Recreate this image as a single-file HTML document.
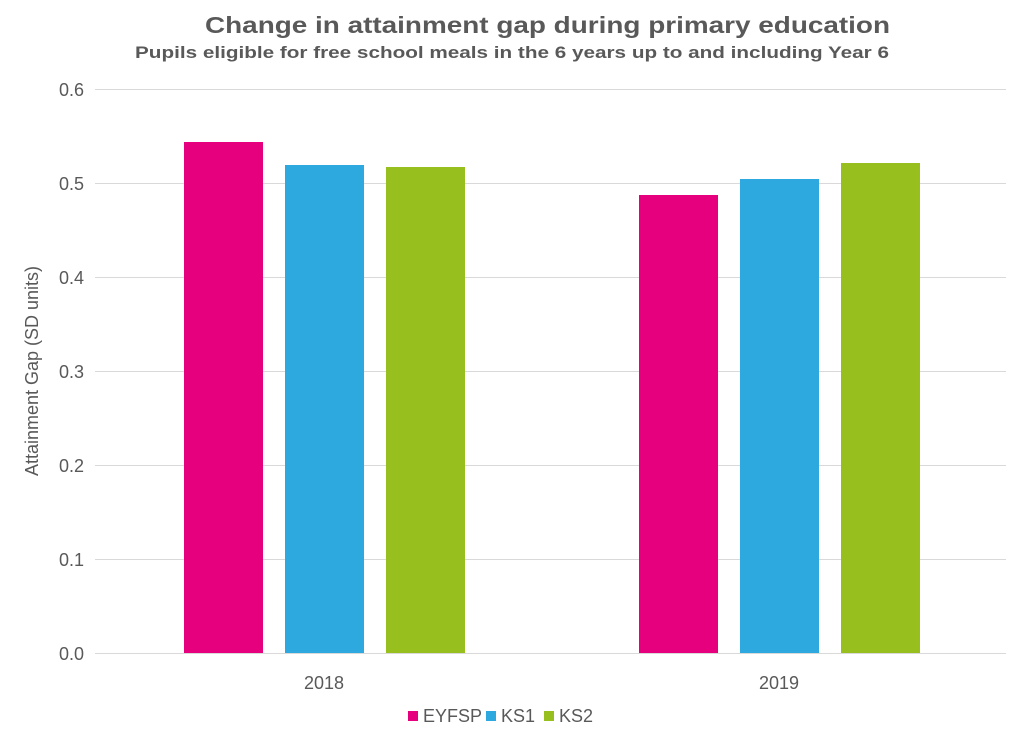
<!DOCTYPE html>
<html><head><meta charset="utf-8"><style>
body{margin:0;background:#fff;}
svg text{font-family:"Liberation Sans",sans-serif;}
</style></head><body>
<svg width="1024" height="744" xmlns="http://www.w3.org/2000/svg">
<rect width="1024" height="744" fill="#fff"/>
<text x="205" y="33" font-size="23" font-weight="bold" fill="#595959" textLength="685" lengthAdjust="spacingAndGlyphs">Change in attainment gap during primary education</text>
<text x="135" y="58" font-size="17" font-weight="bold" fill="#595959" textLength="754" lengthAdjust="spacingAndGlyphs">Pupils eligible for free school meals in the 6 years up to and including Year 6</text>
<g stroke="#d9d9d9" stroke-width="1">
<line x1="95" x2="1006" y1="89.5" y2="89.5"/>
<line x1="95" x2="1006" y1="183.5" y2="183.5"/>
<line x1="95" x2="1006" y1="277.5" y2="277.5"/>
<line x1="95" x2="1006" y1="371.5" y2="371.5"/>
<line x1="95" x2="1006" y1="465.5" y2="465.5"/>
<line x1="95" x2="1006" y1="559.5" y2="559.5"/>
<line x1="95" x2="1006" y1="653.5" y2="653.5"/>
</g>
<g font-size="18" fill="#595959" text-anchor="end">
<text x="84" y="96">0.6</text><text x="84" y="190">0.5</text><text x="84" y="284">0.4</text>
<text x="84" y="378">0.3</text><text x="84" y="472">0.2</text><text x="84" y="566">0.1</text><text x="84" y="660">0.0</text>
</g>
<text transform="translate(38,371) rotate(-90)" text-anchor="middle" font-size="18" fill="#595959">Attainment Gap (SD units)</text>
<rect x="184" y="142" width="79" height="511" fill="#e6007e"/>
<rect x="285" y="165" width="79" height="488" fill="#2ea9e0"/>
<rect x="386" y="167" width="79" height="486" fill="#97c01f"/>
<rect x="639" y="195" width="79" height="458" fill="#e6007e"/>
<rect x="740" y="179" width="79" height="474" fill="#2ea9e0"/>
<rect x="841" y="163" width="79" height="490" fill="#97c01f"/>
<g font-size="18" fill="#595959" text-anchor="middle">
<text x="324" y="689">2018</text><text x="779" y="689">2019</text>
</g>
<rect x="408" y="711" width="10" height="10" fill="#e6007e"/>
<text x="423" y="722" font-size="18" fill="#595959">EYFSP</text>
<rect x="486" y="711" width="10" height="10" fill="#2ea9e0"/>
<text x="501" y="722" font-size="18" fill="#595959">KS1</text>
<rect x="544" y="711" width="10" height="10" fill="#97c01f"/>
<text x="559" y="722" font-size="18" fill="#595959">KS2</text>
</svg>
</body></html>
